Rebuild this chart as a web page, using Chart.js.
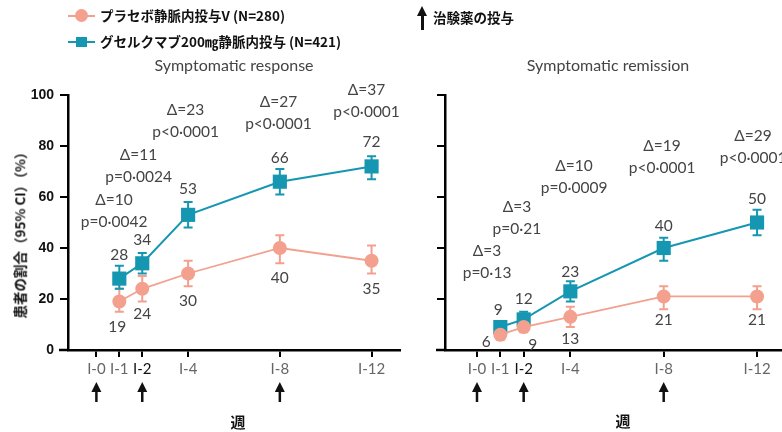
<!DOCTYPE html>
<html>
<head>
<meta charset="utf-8">
<script src="https://cdn.jsdelivr.net/npm/chart.js@4.4.1/dist/chart.umd.min.js"></script>
<style>
  html, body { margin: 0; padding: 0; background: #fff; overflow: hidden; }
  #wrap { position: relative; width: 782px; height: 432px; overflow: hidden; }
  canvas { position: absolute; top: 0; }
  #chartL { left: 0; }
  #chartR { left: 410px; }
  .txt { position: absolute; white-space: nowrap; font-family: "Noto Sans CJK JP", sans-serif; color: #111; line-height: 1; }
  .legend { font-size: 13.5px; font-weight: bold; left: 100px; transform: translateY(-50%); }
  .title { font-family: Lato, sans-serif; font-size: 16px; color: #444; transform: translate(-50%, -50%); }
  .week { font-size: 15px; font-weight: bold; transform: translate(-50%, -50%); }
  #ytitle { left: 20px; top: 232px; font-size: 13.5px; font-weight: bold; transform: translate(-50%, -50%) rotate(-90deg); }
  .lmark { position: absolute; height: 2px; width: 27px; left: 68px; }
  #doseArrow { position: absolute; left: 421px; top: 13px; width: 2.5px; height: 17px; background: #111; }
  #doseHead { position: absolute; left: 417px; top: 6px; width: 0; height: 0;
    border-left: 5px solid transparent; border-right: 5px solid transparent; border-bottom: 10px solid #111; }
</style>
</head>
<body>
<div id="wrap">
  <canvas id="chartL" width="410" height="432"></canvas>
  <canvas id="chartR" width="400" height="432"></canvas>

  <div class="lmark" style="top:15px;background:#f3a08f"></div>
  <div style="position:absolute;left:75px;top:9px;width:13px;height:13px;border-radius:50%;background:#f3a08f"></div>
  <div class="txt legend" style="top:16px">プラセボ静脈内投与V (N=280)</div>
  <div class="lmark" style="top:41px;background:#1596b1"></div>
  <div style="position:absolute;left:76px;top:37px;width:11px;height:10px;background:#1596b1"></div>
  <div class="txt legend" style="top:42px">グセルクマブ200㎎静脈内投与 (N=421)</div>

  <div id="doseArrow"></div>
  <div id="doseHead"></div>
  <div class="txt legend" style="left:433px;top:18px">治験薬の投与</div>

  <div class="txt title" style="left:234px;top:65px">Symptomatic response</div>
  <div class="txt title" style="left:608px;top:65px">Symptomatic remission</div>

  <div id="ytitle" class="txt">患者の割合（95% CI）（%）</div>
  <div class="txt week" style="left:238px;top:421px">週</div>
  <div class="txt week" style="left:623px;top:420px">週</div>
</div>

<script>
// 週
const weeks = [1, 2, 4, 8, 12];
const tickWeeks = [0, 1, 2, 4, 8, 12];
const tickLabels = ['I-0', 'I-1', 'I-2', 'I-4', 'I-8', 'I-12'];
const dosingWeeks = [0, 2, 8];

const seriesNames = ['プラセボ静脈内投与V (N=280)', 'グセルクマブ200㎎静脈内投与 (N=421)'];

// Symptomatic response
const responsePlacebo = [19, 24, 30, 40, 35];
const responsePlaceboLow = [15, 19, 25, 34, 30];
const responsePlaceboHigh = [24, 29, 35, 45, 41];
const responseGusel = [28, 34, 53, 66, 72];
const responseGuselLow = [24, 30, 48, 61, 67];
const responseGuselHigh = [33, 38, 58, 71, 76];
const responseDelta = ['Δ=10', 'Δ=11', 'Δ=23', 'Δ=27', 'Δ=37'];
const responseP = ['p=0·0042', 'p=0·0024', 'p<0·0001', 'p<0·0001', 'p<0·0001'];

// Symptomatic remission
const remissionPlacebo = [6, 9, 13, 21, 21];
const remissionPlaceboLow = [4, 7, 9, 16, 16];
const remissionPlaceboHigh = [8, 12, 17, 25, 25];
const remissionGusel = [9, 12, 23, 40, 50];
const remissionGuselLow = [7, 9, 19, 35, 45];
const remissionGuselHigh = [11, 15, 27, 44, 55];
const remissionDelta = ['Δ=3', 'Δ=3', 'Δ=10', 'Δ=19', 'Δ=29'];
const remissionP = ['p=0·13', 'p=0·21', 'p=0·0009', 'p<0·0001', 'p<0·0001'];

const PLACEBO_COLOR = '#f3a08f';
const GUSEL_COLOR = '#1596b1';
const LABEL_FONT = '15.5px Lato, sans-serif';

const extrasPlugin = {
  id: 'extras',
  beforeDatasetsDraw(chart) {
    const { ctx, scales: { x, y } } = chart;
    // x軸を y軸の左まで少し延ばす
    ctx.save();
    ctx.strokeStyle = '#000';
    ctx.lineWidth = 2.5;
    ctx.beginPath();
    ctx.moveTo(chart.chartArea.left - 9, chart.chartArea.bottom);
    ctx.lineTo(chart.chartArea.left, chart.chartArea.bottom);
    ctx.stroke();

    // error bars
    chart.data.datasets.forEach(ds => {
      ctx.strokeStyle = ds.borderColor;
      ctx.lineWidth = 2;
      ds.data.forEach((pt, i) => {
        const px = x.getPixelForValue(pt.x);
        const top = y.getPixelForValue(ds.ciHigh[i]);
        const bot = y.getPixelForValue(ds.ciLow[i]);
        ctx.beginPath();
        ctx.moveTo(px, top); ctx.lineTo(px, bot);
        ctx.moveTo(px - 4.5, top); ctx.lineTo(px + 4.5, top);
        ctx.moveTo(px - 4.5, bot); ctx.lineTo(px + 4.5, bot);
        ctx.stroke();
      });
    });
    ctx.restore();
  },
  afterDatasetsDraw(chart, args, opts) {
    const { ctx, scales: { x, y } } = chart;
    ctx.save();
    ctx.font = LABEL_FONT;
    ctx.fillStyle = '#444';
    ctx.textAlign = 'center';
    ctx.textBaseline = 'middle';

    // value labels
    chart.data.datasets.forEach((ds, d) => {
      const offs = opts.labelOffsets[d];
      ds.data.forEach((pt, i) => {
        const px = x.getPixelForValue(pt.x) + offs[i][0];
        const py = y.getPixelForValue(pt.y) + offs[i][1];
        ctx.fillText(String(pt.y), px, py);
      });
    });

    // Δ / p annotations
    opts.delta.forEach((t, i) => {
      const [w, lvl] = opts.annotPos[i];
      const px = x.getPixelForValue(w);
      const py = y.getPixelForValue(lvl);
      ctx.fillText(t, px, py);
      ctx.fillText(opts.pvals[i], px, py + 22);
    });

    // dosing arrows
    ctx.strokeStyle = '#111';
    ctx.fillStyle = '#111';
    ctx.lineWidth = 2.5;
    const b = chart.chartArea.bottom;
    dosingWeeks.forEach(w => {
      const px = x.getPixelForValue(w);
      ctx.beginPath();
      ctx.moveTo(px, b + 40); ctx.lineTo(px, b + 52);
      ctx.stroke();
      ctx.beginPath();
      ctx.moveTo(px, b + 32);
      ctx.lineTo(px - 5, b + 42);
      ctx.lineTo(px + 5, b + 42);
      ctx.closePath();
      ctx.fill();
    });
    ctx.restore();
  }
};

function makeChart(id, cfg) {
  return new Chart(document.getElementById(id), {
    type: 'line',
    data: {
      datasets: [
        {
          label: seriesNames[0],
          data: weeks.map((w, i) => ({ x: w, y: cfg.placebo[i] })),
          ciLow: cfg.placeboLow,
          ciHigh: cfg.placeboHigh,
          borderColor: PLACEBO_COLOR,
          backgroundColor: PLACEBO_COLOR,
          borderWidth: 1.8,
          pointStyle: 'circle',
          pointRadius: 7,
          pointBorderWidth: 0
        },
        {
          label: seriesNames[1],
          data: weeks.map((w, i) => ({ x: w, y: cfg.gusel[i] })),
          ciLow: cfg.guselLow,
          ciHigh: cfg.guselHigh,
          borderColor: GUSEL_COLOR,
          backgroundColor: GUSEL_COLOR,
          borderWidth: 2,
          pointStyle: 'rect',
          pointRadius: 10,
          pointBorderWidth: 0
        }
      ]
    },
    options: {
      responsive: false,
      animation: false,
      layout: { padding: cfg.padding },
      plugins: {
        legend: { display: false },
        tooltip: { enabled: false },
        extras: {
          labelOffsets: cfg.labelOffsets,
          delta: cfg.delta,
          pvals: cfg.pvals,
          annotPos: cfg.annotPos
        }
      },
      scales: {
        x: {
          type: 'linear',
          min: cfg.xMin,
          max: cfg.xMax,
          afterFit: s => { s.height = 82; },
          afterBuildTicks: s => { s.ticks = tickWeeks.map(v => ({ value: v })); },
          border: { color: '#000', width: 2.5 },
          grid: { drawOnChartArea: false, color: '#000', lineWidth: 2, tickLength: 7 },
          ticks: {
            padding: 3,
            autoSkip: false,
            maxRotation: 0,
            color: c => c.tick && c.tick.value === 2 ? '#111' : '#666',
            font: { family: 'Lato, sans-serif', size: 15 },
            callback: v => tickLabels[tickWeeks.indexOf(v)]
          }
        },
        y: {
          min: 0,
          max: 100,
          afterFit: s => { s.width = cfg.yWidth; },
          border: { color: '#000', width: 2.5 },
          grid: { drawOnChartArea: false, color: '#000', lineWidth: 2, tickLength: 8 },
          ticks: {
            display: cfg.yLabels,
            stepSize: 20,
            padding: 6,
            color: '#111',
            font: { family: '"Liberation Sans", Arial, sans-serif', size: 14, weight: 'bold' }
          }
        }
      }
    },
    plugins: [extrasPlugin]
  });
}

makeChart('chartL', {
  placebo: responsePlacebo, placeboLow: responsePlaceboLow, placeboHigh: responsePlaceboHigh,
  gusel: responseGusel, guselLow: responseGuselLow, guselHigh: responseGuselHigh,
  delta: responseDelta, pvals: responseP,
  padding: { left: 0, top: 95, right: 3, bottom: 0 },
  yWidth: 68, yLabels: true,
  xMin: -1.238, xMax: 13.24,
  annotPos: [[0.77, 58.8], [1.84, 76.5], [3.89, 94.1], [7.94, 97.3], [11.78, 102]],
  labelOffsets: [
    [[-2, 25], [0, 25], [0, 27], [0, 30], [0, 28]],
    [[0, -24], [0, -23], [0, -26], [0, -24], [0, -24]]
  ]
});

makeChart('chartR', {
  placebo: remissionPlacebo, placeboLow: remissionPlaceboLow, placeboHigh: remissionPlaceboHigh,
  gusel: remissionGusel, guselLow: remissionGuselLow, guselHigh: remissionGuselHigh,
  delta: remissionDelta, pvals: remissionP,
  padding: { left: 0, top: 95, right: 10, bottom: 0 },
  yWidth: 35, yLabels: false,
  xMin: -1.371, xMax: 13.84,
  annotPos: [[0.43, 38.8], [1.71, 56], [4.16, 72], [7.93, 80], [11.83, 84]],
  labelOffsets: [
    [[-14, 7], [9, 18], [0, 22], [0, 24], [0, 24]],
    [[-2, -17], [0, -20], [0, -19], [0, -22], [0, -24]]
  ]
});
</script>
</body>
</html>
